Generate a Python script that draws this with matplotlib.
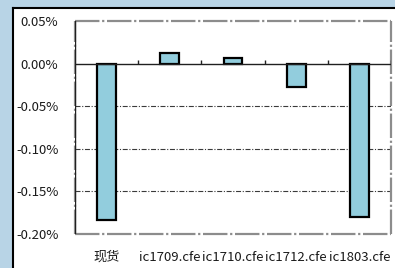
import matplotlib
matplotlib.use("Agg")
import matplotlib.pyplot as plt
from matplotlib.patches import Rectangle
from matplotlib.ticker import FuncFormatter
import numpy as np

plt.rcParams['font.family'] = ['Noto Sans CJK SC', 'DejaVu Sans']

# data (percent)
categories = ['现货', 'ic1709.cfe', 'ic1710.cfe', 'ic1712.cfe', 'ic1803.cfe']
values = [-0.183, 0.012, 0.006, -0.028, -0.180]
yticks = [0.05, 0.0, -0.05, -0.10, -0.15, -0.20]

bar_color = '#92cddd'
bg_color = '#b8d4e6'

fig = plt.figure(figsize=(3.95, 2.68), dpi=100)
fig.patch.set_facecolor(bg_color)

# white panel with black top/left edge
W, H = 395.0, 268.0
panel = Rectangle((13 / W, -0.1), 1.2, 1 - 8 / H + 0.1, transform=fig.transFigure,
                  facecolor='white', edgecolor='none', zorder=-2)
fig.add_artist(panel)
fig.add_artist(plt.Line2D([13 / W, 13 / W], [0, 1 - 8 / H], transform=fig.transFigure,
                          color='black', lw=1.5, zorder=-1))
fig.add_artist(plt.Line2D([13 / W, 1], [1 - 8 / H, 1 - 8 / H], transform=fig.transFigure,
                          color='black', lw=1.5, zorder=-1))

ax = fig.add_axes([75 / W, 1 - 234 / H, 316 / W, 213 / H])
ax.set_zorder(1)
ax.set_facecolor('white')

x = np.arange(len(categories))
ax.bar(x, values, width=0.3, color=bar_color, edgecolor='black', linewidth=1.6, zorder=3)

ax.set_xlim(-0.5, len(categories) - 0.5)
ax.set_ylim(min(yticks), max(yticks))
ax.set_yticks(yticks)
ax.yaxis.set_major_formatter(FuncFormatter(lambda v, p: '%.2f%%' % v))
ax.set_xticks(x)
ax.set_xticklabels(categories)
ax.tick_params(axis='y', length=0, pad=12, labelsize=9.5, labelcolor='#1a1a1a')
ax.tick_params(axis='x', length=0, pad=12, labelsize=9.5, labelcolor='#1a1a1a')

# gridlines
for yv in yticks[2:-1]:
    ax.axhline(yv, color='#3a3a3a', lw=0.8, linestyle=(0, (4.5, 1.5, 1, 1.5)), zorder=1)

# plot-area border (dashed gray)
for s in ax.spines.values():
    s.set_visible(False)
border = dict(color='#8c8c8c', lw=1.6, linestyle=(0, (11, 1.2, 1, 1.2)), zorder=2,
              clip_on=False)
ax.plot([-0.5, 4.5], [0.05, 0.05], **border)
ax.plot([-0.5, 4.5], [-0.20, -0.20], **border)
ax.plot([4.5, 4.5], [-0.20, 0.05], **border)
ax.plot([-0.5, -0.5], [-0.20, 0.05], **border)
ax.axvline(-0.5, color='#202020', lw=1.0, zorder=2)

# zero line with category-boundary ticks
ax.axhline(0, color='#202020', lw=1.0, zorder=4)
bounds = np.arange(len(categories) + 1) - 0.5
ax.vlines(bounds[1:], 0, 0.004, color='#202020', lw=1.0, zorder=4)

fig.savefig('out.png', dpi=100, facecolor=fig.get_facecolor())
